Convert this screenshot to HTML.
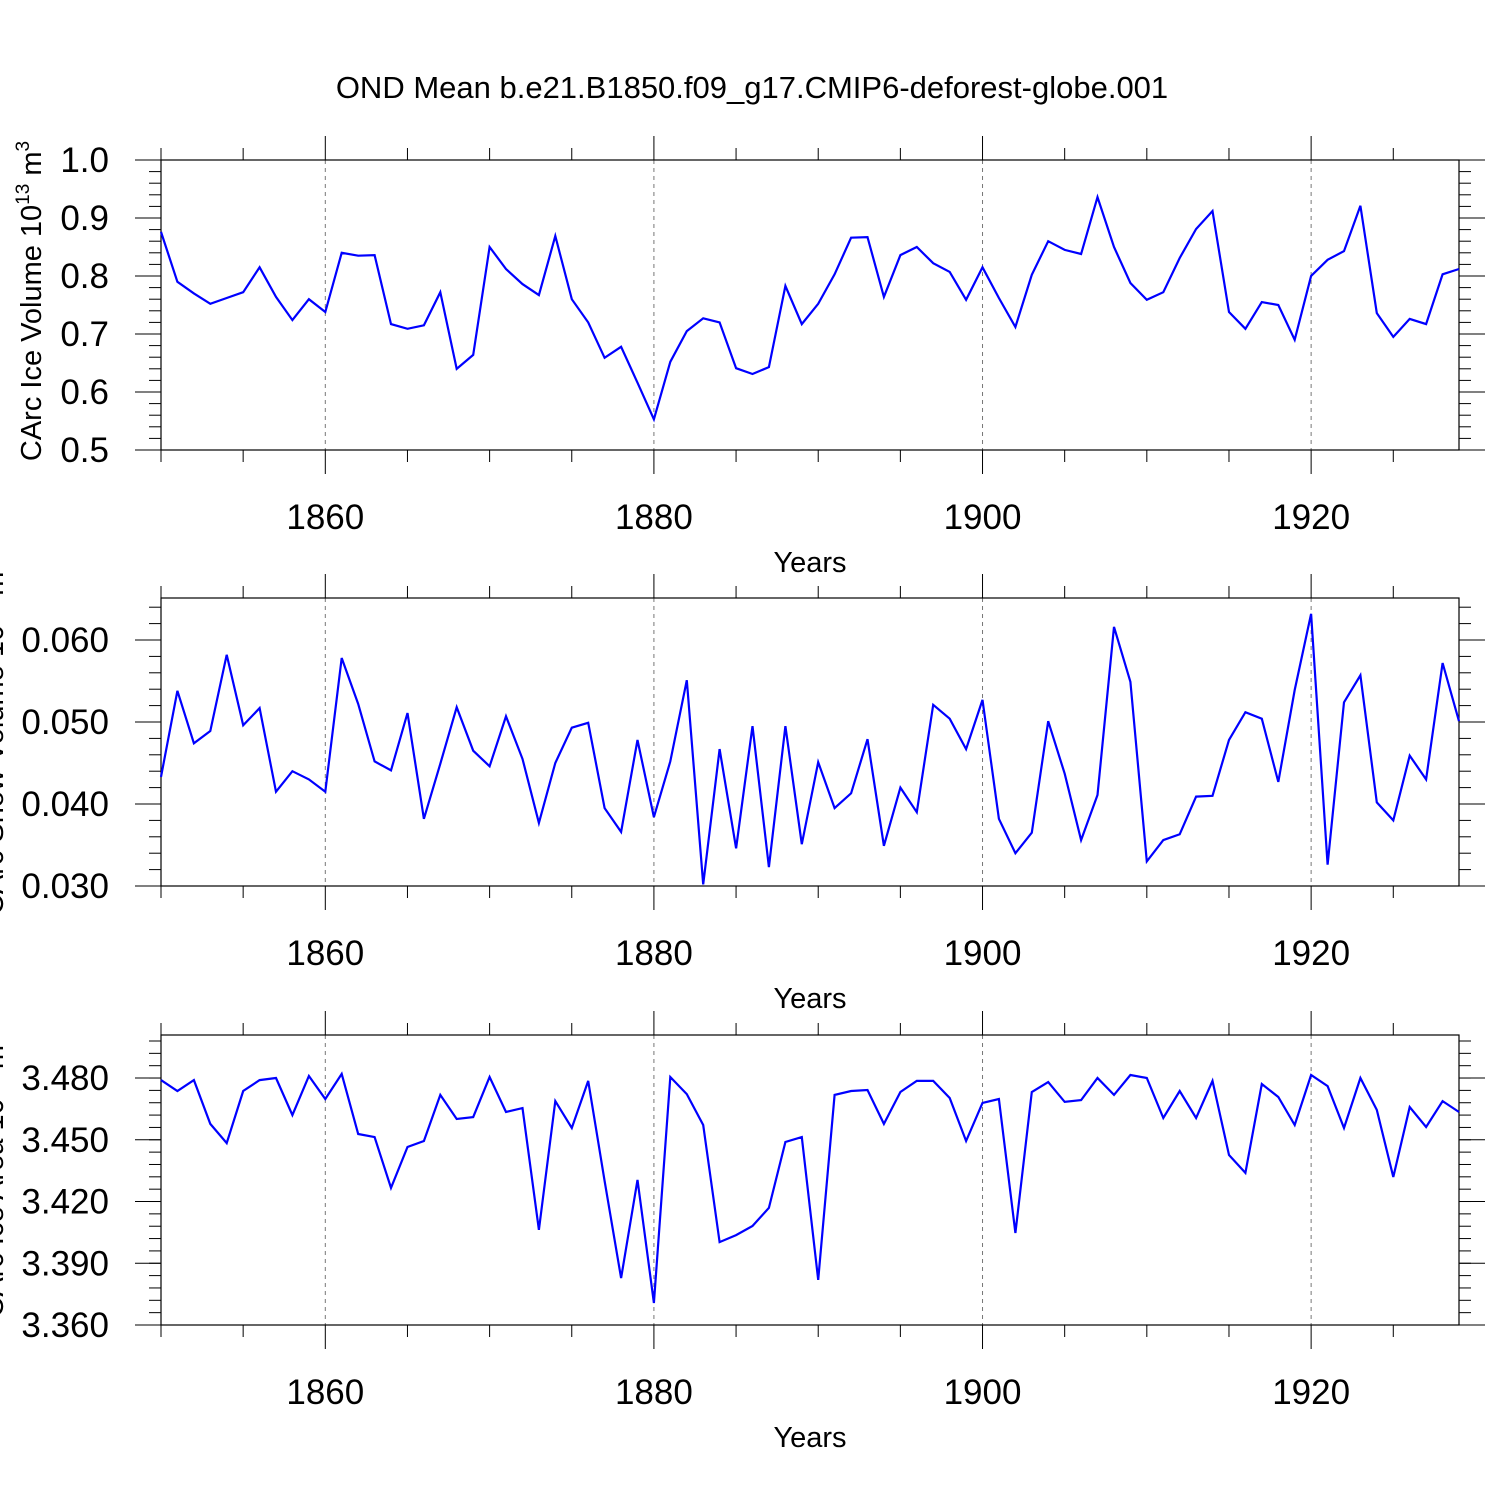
<!DOCTYPE html>
<html><head><meta charset="utf-8">
<style>
html,body{margin:0;padding:0;background:#fff;}
svg{display:block;font-family:"Liberation Sans",sans-serif;}
</style></head>
<body>
<svg id="chart" width="1500" height="1500" viewBox="0 0 1500 1500">
<text x="752" y="98" font-size="31" text-anchor="middle">OND Mean b.e21.B1850.f09_g17.CMIP6-deforest-globe.001</text>
</svg>
<script>
const years = [];
for (let y = 1850; y <= 1929; y++) years.push(y);
const iceVolume = [0.876,0.79,0.77,0.752,0.762,0.772,0.815,0.764,0.724,0.76,0.738,0.84,0.835,0.836,0.717,0.709,0.715,0.772,0.64,0.664,0.85,0.812,0.786,0.767,0.869,0.76,0.72,0.659,0.678,0.616,0.553,0.652,0.705,0.727,0.72,0.641,0.631,0.643,0.783,0.717,0.752,0.803,0.866,0.867,0.764,0.836,0.85,0.822,0.807,0.759,0.815,0.762,0.712,0.802,0.86,0.845,0.838,0.936,0.85,0.788,0.759,0.772,0.831,0.881,0.912,0.738,0.709,0.755,0.75,0.69,0.8,0.828,0.843,0.921,0.736,0.695,0.726,0.717,0.803,0.812];
const snowVolume = [0.0433,0.0538,0.0474,0.0489,0.0582,0.0496,0.0517,0.0415,0.0440,0.0430,0.0415,0.0578,0.0522,0.0452,0.0441,0.0511,0.0382,0.0449,0.0518,0.0465,0.0446,0.0507,0.0455,0.0377,0.0450,0.0493,0.0499,0.0395,0.0366,0.0478,0.0384,0.0452,0.0551,0.0302,0.0467,0.0346,0.0495,0.0323,0.0495,0.0351,0.0451,0.0395,0.0413,0.0479,0.0349,0.0420,0.0390,0.0521,0.0504,0.0467,0.0527,0.0382,0.0340,0.0365,0.0501,0.0437,0.0356,0.0411,0.0616,0.0549,0.0330,0.0356,0.0363,0.0409,0.0410,0.0478,0.0512,0.0504,0.0427,0.0539,0.0632,0.0326,0.0524,0.0557,0.0402,0.0380,0.0459,0.0430,0.0572,0.0501];
const iceArea = [3.479,3.4737,3.479,3.4577,3.4484,3.4737,3.479,3.48,3.462,3.481,3.4698,3.482,3.4528,3.4513,3.4266,3.4465,3.4494,3.4718,3.4601,3.461,3.4805,3.4635,3.4654,3.4062,3.4688,3.4557,3.4786,3.43,3.3828,3.4305,3.3707,3.4805,3.4722,3.4572,3.4003,3.4037,3.4081,3.4169,3.4489,3.4513,3.3819,3.4718,3.4737,3.4742,3.4577,3.4732,3.4786,3.4786,3.4703,3.4494,3.4679,3.4698,3.4047,3.4732,3.4781,3.4684,3.4693,3.48,3.4718,3.4815,3.48,3.4606,3.4737,3.4606,3.4786,3.4426,3.4339,3.4771,3.4708,3.4572,3.4815,3.4761,3.4557,3.48,3.4645,3.4319,3.4659,3.4562,3.4688,3.4635];
const xTicks = [1860,1880,1900,1920];
const ticks1 = [0.5,0.6,0.7,0.8,0.9,1.0];
const tickLabels1 = ["0.5","0.6","0.7","0.8","0.9","1.0"];
const ticks2 = [0.030,0.040,0.050,0.060];
const tickLabels2 = ["0.030","0.040","0.050","0.060"];
const ticks3 = [3.360,3.390,3.420,3.450,3.480];
const tickLabels3 = ["3.360","3.390","3.420","3.450","3.480"];

const NS = "http://www.w3.org/2000/svg";
const svg = document.getElementById("chart");
function mk(tag, attrs, parent) {
  const e = document.createElementNS(NS, tag);
  for (const k in attrs) e.setAttribute(k, attrs[k]);
  (parent || svg).appendChild(e);
  return e;
}
const L = 161, R = 1459, X0 = 1850, X1 = 1929;
function xs(v) { return L + (v - X0) / (X1 - X0) * (R - L); }

const panels = [
  {name:"ice-volume", top:160, bottom:450, ymin:0.5, ymax:1.0, data:iceVolume, ticks:ticks1, labels:tickLabels1, minor:0.02, title:"CArc Ice Volume 10", sup:"13", unit:" m", usup:"3", tx:31},
  {name:"snow-volume", top:598, bottom:886, ymin:0.030, ymax:0.030+288/8200, data:snowVolume, ticks:ticks2, labels:tickLabels2, minor:0.002, title:"CArc Snow Volume 10", sup:"13", unit:" m", usup:"3", tx:-7},
  {name:"ice-area", top:1035, bottom:1325, ymin:3.360, ymax:3.360+290/2058, data:iceArea, ticks:ticks3, labels:tickLabels3, minor:0.006, title:"CArc Ice Area 10", sup:"13", unit:" m", usup:"2", tx:-7}
];

panels.forEach(p => {
  const g = mk("g", {});
  
  
  const ys = v => p.bottom - (v - p.ymin) / (p.ymax - p.ymin) * (p.bottom - p.top);
  xTicks.forEach(t => {
    const l = mk("line", {x1:xs(t), x2:xs(t), y1:p.top, y2:p.bottom, stroke:"#777", "stroke-width":1, "stroke-dasharray":"4,4"}, g);
    
    
  });
  for (let yv = 1850; yv <= 1929; yv += 5) {
    const major = (yv % 20 === 0);
    const len = major ? 24 : 12;
    const x = xs(yv);
    mk("line", {x1:x, x2:x, y1:p.top, y2:p.top - len, stroke:"#000", "stroke-width":1}, g);
    mk("line", {x1:x, x2:x, y1:p.bottom, y2:p.bottom + len, stroke:"#000", "stroke-width":1}, g);
  }
  const step = p.minor;
  const start = Math.ceil(p.ymin / step - 1e-6);
  for (let k = start; k * step <= p.ymax + 1e-9; k++) {
    const y = ys(k * step);
    mk("line", {x1:L, x2:L - 12, y1:y, y2:y, stroke:"#000", "stroke-width":1}, g);
    mk("line", {x1:R, x2:R + 12, y1:y, y2:y, stroke:"#000", "stroke-width":1}, g);
  }
  p.ticks.forEach((t, i) => {
    const y = ys(t);
    mk("line", {x1:L, x2:L - 26, y1:y, y2:y, stroke:"#000", "stroke-width":1}, g);
    mk("line", {x1:R, x2:R + 26, y1:y, y2:y, stroke:"#000", "stroke-width":1}, g);
    const tl = mk("text", {x:109, y:y + 12, "font-size":35, "text-anchor":"end"}, g);
    
    
    tl.textContent = p.labels[i];
  });
  xTicks.forEach(t => {
    const tl = mk("text", {x:xs(t), y:p.bottom + 79, "font-size":35, "text-anchor":"middle"}, g);
    
    
    tl.textContent = t;
  });
  const xt = mk("text", {x:810, y:p.bottom + 122, "font-size":29, "text-anchor":"middle"}, g);
  
  
  xt.textContent = "Years";
  const cy = (p.top + p.bottom) / 2 - 4;
  const yt = mk("text", {transform:"translate(" + (p.tx + 10) + "," + cy + ") rotate(-90)", "font-size":29, "text-anchor":"middle"}, g);
  
  
  yt.appendChild(document.createTextNode(p.title));
  const s1 = mk("tspan", {dy:-12, "font-size":19}, yt); s1.textContent = p.sup;
  const s2 = mk("tspan", {dy:12}, yt); s2.textContent = p.unit;
  const s3 = mk("tspan", {dy:-12, "font-size":19}, yt); s3.textContent = p.usup;
  const fr = mk("rect", {x:L, y:p.top, width:R - L, height:p.bottom - p.top, fill:"none", stroke:"#000", "stroke-width":1.2}, g);
  
  
  const pts = p.data.map((v, i) => xs(years[i]).toFixed(1) + "," + ys(v).toFixed(1)).join(" ");
  const pl = mk("polyline", {points:pts, fill:"none", stroke:"#0000ff", "stroke-width":2.2, "stroke-linejoin":"miter"}, g);
  
  
});
</script>
</body></html>
